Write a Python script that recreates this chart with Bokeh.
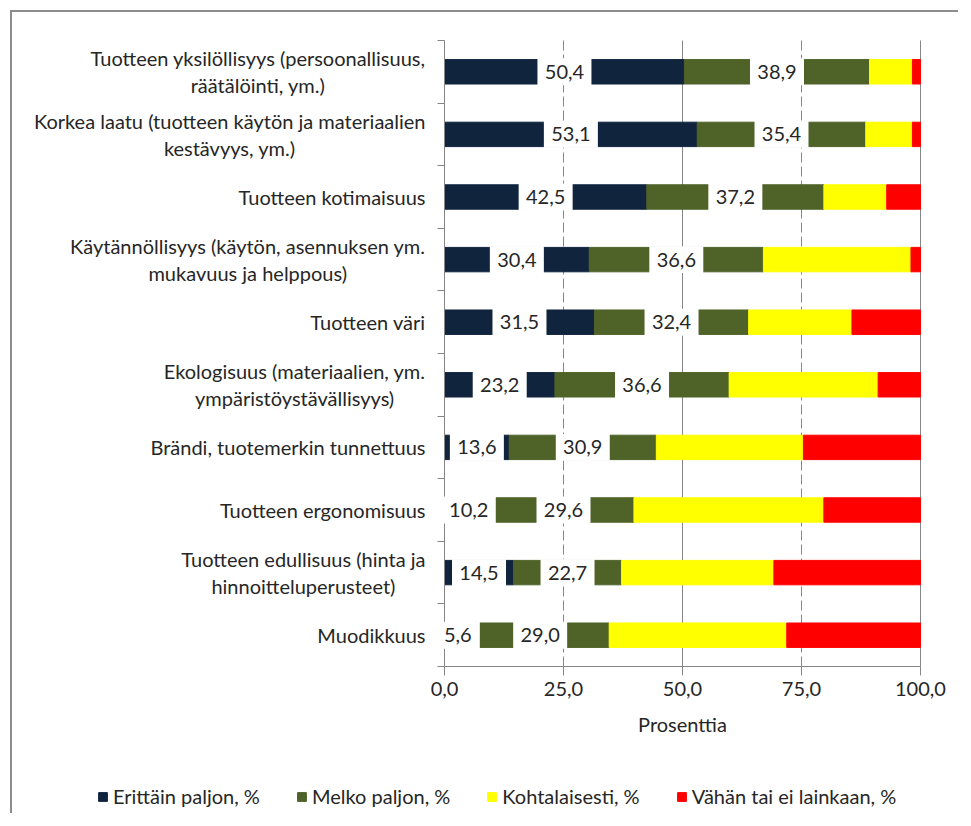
from bokeh.plotting import figure
from bokeh.models import (ColumnDataSource, FixedTicker, Range1d, Legend, LegendItem,
                          LinearAxis)
from bokeh.core.properties import value
from bokeh.embed import file_html
from bokeh.resources import INLINE

# ---------------- data ----------------
categories = [
    "Tuotteen yksilöllisyys (persoonallisuus,\nräätälöinti, ym.)",
    "Korkea laatu (tuotteen käytön ja materiaalien\nkestävyys, ym.)",
    "Tuotteen kotimaisuus",
    "Käytännöllisyys (käytön, asennuksen ym.\nmukavuus ja helppous)",
    "Tuotteen väri",
    "Ekologisuus (materiaalien, ym.\nympäristöystävällisyys)",
    "Brändi, tuotemerkin tunnettuus",
    "Tuotteen ergonomisuus",
    "Tuotteen edullisuus (hinta ja\nhinnoitteluperusteet)",
    "Muodikkuus",
]
erittain = [50.4, 53.1, 42.5, 30.4, 31.5, 23.2, 13.6, 10.2, 14.5, 5.6]
melko = [38.9, 35.4, 37.2, 36.6, 32.4, 36.6, 30.9, 29.6, 22.7, 29.0]
kohtalaisesti = [9.0, 9.8, 13.2, 31.0, 21.7, 31.3, 30.9, 39.9, 32.0, 37.3]
vahan = [1.7, 1.7, 7.1, 2.0, 14.4, 8.9, 24.6, 20.3, 30.8, 28.1]
series_names = ["Erittäin paljon, %", "Melko paljon, %", "Kohtalaisesti, %", "Vähän tai ei lainkaan, %"]
x_ticks = [0, 25, 50, 75, 100]
x_tick_labels = ["0,0", "25,0", "50,0", "75,0", "100,0"]
x_axis_title = "Prosenttia"

# ---------------- styles / layout ----------------
colors = ["#10243e", "#4f6228", "#ffff00", "#ff0000"]
FONT = "Lato"
TXT = "#262626"
GRAY = "#868686"
FS = "20px"

n = len(categories)
ypos = [n - 0.5 - i for i in range(n)]
XMAX = 100

CANVAS_W, CANVAS_H = 948, 803
PLOT_LEFT, PLOT_W = 432, 476      # pixel box of the value area inside the canvas
PLOT_TOP, PLOT_H = 28, 626
px_x = PLOT_W / XMAX
px_y = PLOT_H / n
x_start = -PLOT_LEFT / px_x
x_end = x_start + CANVAS_W / px_x
y_end = n + PLOT_TOP / px_y
y_start = y_end - CANVAS_H / px_y

p = figure(
    width=CANVAS_W, height=CANVAS_H,
    x_range=Range1d(x_start, x_end), y_range=Range1d(y_start, y_end),
    x_axis_type=None, y_axis_type=None,
    output_backend="svg", toolbar_location=None, min_border=0,
)
p.styles = {"margin-left": "10px", "margin-top": "10px",
            "border-left": "2px solid #8c8c8c", "border-top": "2px solid #8c8c8c"}
p.outline_line_color = None
p.background_fill_color = "white"

# grid lines (solid at major, dashed at minor positions)
p.segment(x0=[50, 100], x1=[50, 100], y0=0, y1=n, line_color=GRAY, line_width=1, level="underlay")
p.segment(x0=[25, 75], x1=[25, 75], y0=0, y1=n, line_color=GRAY, line_width=1,
          line_dash="10 4", level="underlay")

source = ColumnDataSource(dict(y=ypos, E=erittain, M=melko, K=kohtalaisesti, V=vahan))
bars = p.hbar_stack(["E", "M", "K", "V"], y="y", height=0.39, color=colors, source=source)

# value labels (white boxes over the first two segments)
lx, ly, lt, lw = [], [], [], []
for y, e, m in zip(ypos, erittain, melko):
    for center, v in ((e / 2, e), (e + m / 2, m)):
        s = f"{v:.1f}".replace(".", ",")
        lx.append(center)
        ly.append(y)
        lt.append(s)
        lw.append(10 * len(s) + 14)
lab = ColumnDataSource(dict(x=lx, y=ly, t=lt, w=lw))
p.rect(x="x", y="y", width="w", height=0.43, width_units="screen",
       fill_color="white", line_color=None, source=lab, level="annotation")
p.text(x="x", y="y", text="t", text_align="center", text_baseline="middle",
       text_font=value(FONT), text_font_size=FS, text_color=TXT, source=lab,
       level="annotation")

# category labels: block right-aligned to the axis, lines centred
cat = ColumnDataSource(dict(x=[0] * n, y=ypos, t=categories))
p.text(x="x", y="y", text="t", x_offset=-19, anchor="center_right",
       text_align="center", text_baseline="middle", text_line_height=1.12,
       text_font=value(FONT), text_font_size=FS, text_color=TXT, source=cat)

# y axis (line + ticks between categories)
ya = LinearAxis(fixed_location=0, bounds=(0, n),
                ticker=FixedTicker(ticks=list(range(n + 1))))
ya.major_label_overrides = {i: "" for i in range(n + 1)}
ya.major_tick_out = 7
ya.major_tick_in = 0
ya.major_tick_line_color = GRAY
ya.minor_tick_line_color = None
ya.axis_line_color = GRAY
p.add_layout(ya, "left")

# x axis
xa = LinearAxis(fixed_location=0, bounds=(0, XMAX), ticker=FixedTicker(ticks=x_ticks),
                axis_label=x_axis_title)
xa.major_label_overrides = {t: l for t, l in zip(x_ticks, x_tick_labels)}
xa.major_tick_out = 9
xa.major_tick_in = 0
xa.major_tick_line_color = GRAY
xa.minor_tick_line_color = None
xa.axis_line_color = GRAY
xa.major_label_text_font = FONT
xa.major_label_text_font_size = FS
xa.major_label_text_color = TXT
xa.major_label_standoff = 6
xa.axis_label_text_font = FONT
xa.axis_label_text_font_size = FS
xa.axis_label_text_font_style = "normal"
xa.axis_label_text_color = TXT
xa.axis_label_standoff = 13
p.add_layout(xa, "below")

# legend
leg = Legend(items=[LegendItem(label=nm, renderers=[r]) for nm, r in zip(series_names, bars)],
             location=(85, 7), orientation="horizontal",
             padding=0, margin=0, spacing=36, glyph_width=11, glyph_height=11,
             label_standoff=5, border_line_color=None, background_fill_alpha=0,
             label_text_font=FONT, label_text_font_size=FS, label_text_color=TXT)
p.add_layout(leg)

open("out.html", "w").write(file_html(p, INLINE))
